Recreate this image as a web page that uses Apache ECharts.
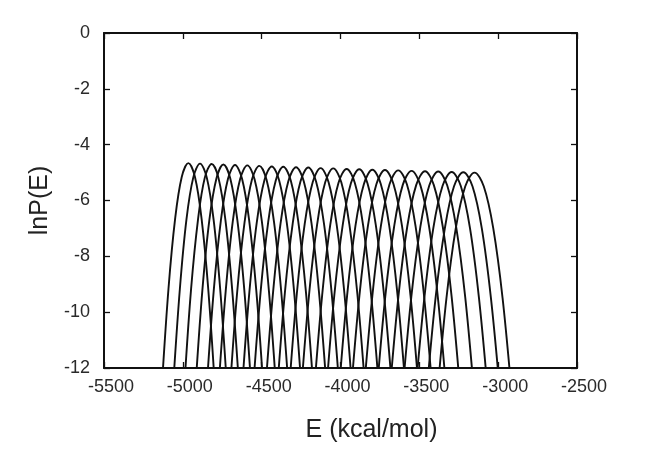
<!DOCTYPE html>
<html>
<head>
<meta charset="utf-8">
<script src="https://cdn.jsdelivr.net/npm/echarts@6/dist/echarts.min.js"></script>
<style>
html,body{margin:0;padding:0;background:#fff;}
#chart{width:654px;height:454px;}
</style>
</head>
<body>
<div id="chart"></div>
<script>
// Axis ticks
const xTicks = [-5500, -5000, -4500, -4000, -3500, -3000, -2500];
const yTicks = [-12, -10, -8, -6, -4, -2, 0];

// Each curve: [E (kcal/mol), lnP(E)] points
const c01 = [[-5133,-12.66],[-5091,-9.16],[-5049,-6.66],[-5007,-5.16],[-4965,-4.66],[-4923,-5.16],[-4881,-6.66],[-4839,-9.16],[-4797,-12.66]];
const c02 = [[-5062,-12.68],[-5019,-9.18],[-4977,-6.68],[-4934,-5.18],[-4891,-4.68],[-4848,-5.18],[-4805,-6.68],[-4763,-9.18],[-4720,-12.68]];
const c03 = [[-4991,-12.69],[-4948,-9.19],[-4904,-6.69],[-4861,-5.19],[-4817,-4.69],[-4774,-5.19],[-4730,-6.69],[-4687,-9.19],[-4643,-12.69]];
const c04 = [[-4920,-12.71],[-4876,-9.21],[-4832,-6.71],[-4787,-5.21],[-4743,-4.71],[-4699,-5.21],[-4654,-6.71],[-4610,-9.21],[-4566,-12.71]];
const c05 = [[-4849,-12.73],[-4804,-9.23],[-4759,-6.73],[-4714,-5.23],[-4669,-4.73],[-4624,-5.23],[-4579,-6.73],[-4534,-9.23],[-4489,-12.73]];
const c06 = [[-4774,-12.74],[-4728,-9.24],[-4683,-6.74],[-4637,-5.24],[-4591,-4.74],[-4545,-5.24],[-4499,-6.74],[-4454,-9.24],[-4408,-12.74]];
const c07 = [[-4701,-12.76],[-4655,-9.26],[-4608,-6.76],[-4562,-5.26],[-4515,-4.76],[-4469,-5.26],[-4422,-6.76],[-4376,-9.26],[-4329,-12.76]];
const c08 = [[-4625,-12.78],[-4578,-9.28],[-4531,-6.78],[-4483,-5.28],[-4436,-4.78],[-4389,-5.28],[-4341,-6.78],[-4294,-9.28],[-4247,-12.78]];
const c09 = [[-4555,-12.79],[-4507,-9.29],[-4459,-6.79],[-4411,-5.29],[-4363,-4.79],[-4315,-5.29],[-4267,-6.79],[-4219,-9.29],[-4171,-12.79]];
const c10 = [[-4477,-12.81],[-4428,-9.31],[-4380,-6.81],[-4331,-5.31],[-4282,-4.81],[-4233,-5.31],[-4184,-6.81],[-4136,-9.31],[-4087,-12.81]];
const c11 = [[-4402,-12.82],[-4353,-9.32],[-4303,-6.82],[-4254,-5.32],[-4204,-4.82],[-4155,-5.32],[-4105,-6.82],[-4056,-9.32],[-4006,-12.82]];
const c12 = [[-4327,-12.84],[-4277,-9.34],[-4227,-6.84],[-4176,-5.34],[-4126,-4.84],[-4076,-5.34],[-4025,-6.84],[-3975,-9.34],[-3925,-12.84]];
const c13 = [[-4250,-12.85],[-4199,-9.35],[-4148,-6.85],[-4097,-5.35],[-4046,-4.85],[-3995,-5.35],[-3944,-6.85],[-3893,-9.35],[-3842,-12.85]];
const c14 = [[-4168,-12.87],[-4116,-9.37],[-4065,-6.87],[-4013,-5.37],[-3961,-4.87],[-3909,-5.37],[-3857,-6.87],[-3806,-9.37],[-3754,-12.87]];
const c15 = [[-4091,-12.88],[-4039,-9.38],[-3986,-6.88],[-3934,-5.38],[-3881,-4.88],[-3829,-5.38],[-3776,-6.88],[-3724,-9.38],[-3671,-12.88]];
const c16 = [[-4011,-12.90],[-3958,-9.40],[-3905,-6.90],[-3851,-5.40],[-3798,-4.90],[-3745,-5.40],[-3691,-6.90],[-3638,-9.40],[-3585,-12.90]];
const c17 = [[-3934,-12.91],[-3880,-9.41],[-3826,-6.91],[-3772,-5.41],[-3718,-4.91],[-3664,-5.41],[-3610,-6.91],[-3556,-9.41],[-3502,-12.91]];
const c18 = [[-3853,-12.92],[-3798,-9.42],[-3744,-6.92],[-3689,-5.42],[-3634,-4.92],[-3579,-5.42],[-3524,-6.92],[-3470,-9.42],[-3415,-12.92]];
const c19 = [[-3771,-12.94],[-3716,-9.44],[-3660,-6.94],[-3605,-5.44],[-3549,-4.94],[-3494,-5.44],[-3438,-6.94],[-3383,-9.44],[-3327,-12.94]];
const c20 = [[-3689,-12.95],[-3633,-9.45],[-3577,-6.95],[-3520,-5.45],[-3464,-4.95],[-3408,-5.45],[-3351,-6.95],[-3295,-9.45],[-3239,-12.95]];
const c21 = [[-3608,-12.96],[-3551,-9.46],[-3494,-6.96],[-3437,-5.46],[-3380,-4.96],[-3323,-5.46],[-3266,-6.96],[-3209,-9.46],[-3152,-12.96]];
const c22 = [[-3526,-12.98],[-3468,-9.48],[-3411,-6.98],[-3353,-5.48],[-3295,-4.98],[-3237,-5.48],[-3179,-6.98],[-3122,-9.48],[-3064,-12.98]];
const c23 = [[-3455,-12.99],[-3397,-9.49],[-3338,-6.99],[-3280,-5.49],[-3221,-4.99],[-3163,-5.49],[-3104,-6.99],[-3046,-9.49],[-2987,-12.99]];
const c24 = [[-3387,-13.00],[-3328,-9.50],[-3269,-7.00],[-3209,-5.50],[-3150,-5.00],[-3091,-5.50],[-3031,-7.00],[-2972,-9.50],[-2913,-13.00]];

const curves = [c01,c02,c03,c04,c05,c06,c07,c08,c09,c10,c11,c12,c13,c14,c15,c16,c17,c18,c19,c20,c21,c22,c23,c24];

const xName = 'E (kcal/mol)';
const yName = 'lnP(E)';

const FONT = '"Liberation Sans", Arial, Helvetica, sans-serif';
const axisLineStyle = {color: '#111', width: 2};

const chart = echarts.init(document.getElementById('chart'), null, {renderer: 'canvas'});
const xBase = {
  type: 'value', min: xTicks[0], max: xTicks[xTicks.length - 1], interval: 500,
  splitLine: {show: false},
  axisLine: {show: true, onZero: false, lineStyle: axisLineStyle},
  axisTick: {show: true, inside: true, length: 6, lineStyle: {color: '#111', width: 1.3}}
};
const yBase = {
  type: 'value', min: yTicks[0], max: yTicks[yTicks.length - 1], interval: 2,
  splitLine: {show: false},
  axisLine: {show: true, onZero: false, lineStyle: axisLineStyle},
  axisTick: {show: true, inside: true, length: 6, lineStyle: {color: '#111', width: 1.3}}
};

chart.setOption({
  animation: false,
  backgroundColor: '#fff',
  grid: {left: 104, top: 33, right: 77, bottom: 86, containLabel: false, outerBoundsMode: 'none'},
  xAxis: [
    Object.assign({}, xBase, {
      position: 'bottom',
      name: xName, nameLocation: 'middle', nameGap: 50,
      nameTextStyle: {fontFamily: FONT, fontSize: 25, color: '#222', padding: [0, 0, 0, 62]},
      axisLabel: {show: true, margin: 10, fontFamily: FONT, fontSize: 18, color: '#2a2a2a',
        padding: [0, 0, 0, 14], formatter: v => String(v)}
    }),
    Object.assign({}, xBase, {position: 'top', axisLabel: {show: false}})
  ],
  yAxis: [
    Object.assign({}, yBase, {
      position: 'left',
      name: yName, nameLocation: 'middle', nameGap: 48,
      nameTextStyle: {fontFamily: FONT, fontSize: 25, color: '#222'},
      axisLabel: {show: true, margin: 14, fontFamily: FONT, fontSize: 18, color: '#2a2a2a',
        formatter: v => String(v)}
    }),
    Object.assign({}, yBase, {position: 'right', axisLabel: {show: false}})
  ],
  series: curves.map((c, i) => ({
    type: 'line',
    name: 'T' + (i + 1),
    data: c,
    xAxisIndex: 0, yAxisIndex: 0,
    showSymbol: false,
    smooth: 0.35,
    clip: true,
    lineStyle: {color: '#111', width: 1.9}
  }))
});
</script>
</body>
</html>
